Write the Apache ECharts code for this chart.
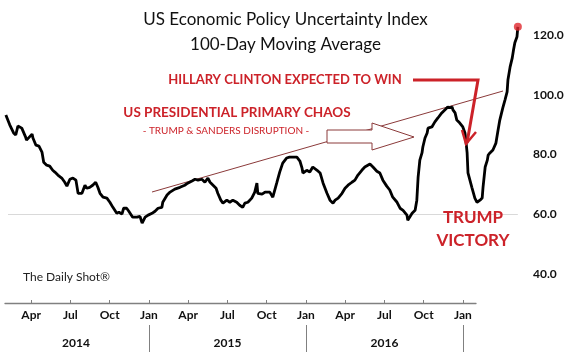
<!DOCTYPE html>
<html><head><meta charset="utf-8">
<script src="https://cdn.jsdelivr.net/npm/echarts@6/dist/echarts.min.js"></script>
<style>html,body{margin:0;padding:0;background:#fff}#c{width:571px;height:357px}</style>
</head><body><div id="c"></div>
<script>
// Series: US Economic Policy Uncertainty Index, 100-day moving average
const dates = [
'2014-02-03','2014-02-12','2014-02-21','2014-02-26','2014-03-03','2014-03-12','2014-03-21','2014-03-23',
'2014-04-05','2014-04-07','2014-04-14','2014-04-21','2014-04-28','2014-05-02','2014-05-09','2014-05-16',
'2014-05-23','2014-05-28','2014-06-04','2014-06-13','2014-06-20','2014-06-25','2014-07-02','2014-07-09',
'2014-07-16','2014-07-21','2014-07-30','2014-08-06','2014-08-10','2014-08-17','2014-08-24','2014-08-31',
'2014-09-05','2014-09-10','2014-09-17','2014-09-26','2014-10-03','2014-10-10','2014-10-19','2014-10-24',
'2014-10-31','2014-11-04','2014-11-11','2014-11-16','2014-11-25','2014-12-05','2014-12-12','2014-12-17',
'2014-12-24','2014-12-31','2015-01-09','2015-01-16','2015-01-23','2015-02-01','2015-02-03','2015-02-13',
'2015-02-20','2015-03-03','2015-03-15','2015-03-26','2015-04-02','2015-04-12','2015-04-19','2015-04-26',
'2015-05-05','2015-05-12','2015-05-19','2015-05-24','2015-05-31','2015-06-07','2015-06-11','2015-06-18',
'2015-06-23','2015-07-02','2015-07-09','2015-07-16','2015-07-25','2015-08-01','2015-08-08','2015-08-13',
'2015-08-20','2015-08-29','2015-09-05','2015-09-10','2015-09-12','2015-09-22','2015-09-29','2015-10-03',
'2015-10-10','2015-10-17','2015-10-26','2015-11-02','2015-11-09','2015-11-18','2015-11-25','2015-12-03',
'2015-12-12','2015-12-19','2015-12-24','2015-12-26','2016-01-04','2016-01-11','2016-01-18','2016-01-28',
'2016-02-04','2016-02-11','2016-02-20','2016-02-27','2016-03-05','2016-03-10','2016-03-17','2016-03-26',
'2016-04-02','2016-04-09','2016-04-18','2016-04-25','2016-05-02','2016-05-11','2016-05-18','2016-05-30',
'2016-06-06','2016-06-15','2016-06-22','2016-06-29','2016-07-08','2016-07-15','2016-07-22','2016-08-01',
'2016-08-08','2016-08-15','2016-08-24','2016-08-26','2016-09-05','2016-09-12','2016-09-16','2016-09-19',
'2016-09-23','2016-09-28','2016-09-30','2016-10-05','2016-10-10','2016-10-12','2016-10-21','2016-10-28',
'2016-11-04','2016-11-13','2016-11-20','2016-11-27','2016-12-02','2016-12-07','2016-12-09','2016-12-14',
'2016-12-18','2016-12-25','2017-01-01','2017-01-06','2017-01-08','2017-01-11','2017-01-13','2017-01-22',
'2017-01-29','2017-02-03','2017-02-10','2017-02-15','2017-02-17','2017-02-22','2017-02-27','2017-03-01',
'2017-03-05','2017-03-12','2017-03-19','2017-03-24','2017-03-28','2017-04-04','2017-04-09','2017-04-14',
'2017-04-16','2017-04-21','2017-04-26','2017-04-29','2017-05-02','2017-05-07','2017-05-09'
];
const values = [
93.2,89.9,87.2,86.5,89.5,88.8,85.8,84.8,
86.8,85.5,83.1,82.8,80.8,77.4,76.4,76.1,
74.7,74.1,73.1,72.1,70.7,69.4,71.7,72.1,
71.4,67.0,67.0,69.7,68.7,69.0,69.7,70.7,
69.0,67.0,65.7,65.4,64.0,62.3,60.3,60.7,
60.0,62.0,62.0,61.0,59.0,59.0,59.3,57.0,
59.0,59.7,60.3,61.0,62.0,62.3,64.0,66.4,
67.4,68.4,69.0,69.7,70.4,71.1,71.7,71.4,
71.7,70.7,72.1,70.7,69.7,68.7,67.0,64.7,
63.7,64.7,64.0,64.7,64.0,63.0,62.3,63.7,
64.0,65.4,67.4,70.4,67.0,66.7,67.4,67.0,
67.4,65.7,70.4,74.1,77.1,78.8,79.1,79.1,
79.1,77.8,75.4,73.8,74.7,74.1,75.8,74.7,
73.8,70.4,67.0,64.7,63.7,64.7,65.4,67.0,
68.7,69.7,70.7,71.4,73.1,74.7,75.8,76.8,
75.8,74.4,73.8,71.4,69.4,68.1,65.7,64.0,
62.0,61.3,59.7,58.0,60.3,61.3,64.7,72.4,
78.1,80.5,82.5,85.5,87.2,88.8,89.2,90.9,
92.2,93.9,94.9,95.9,95.6,95.9,94.9,93.9,
91.5,90.5,89.2,87.2,84.8,80.5,73.8,69.0,
65.4,64.0,64.7,65.4,69.0,75.8,78.1,79.8,
80.5,81.5,83.8,88.2,91.5,95.6,98.2,100.9,
105.0,109.3,112.3,115.0,117.4,119.4,122.7
];
// Bottom axis: month categories (Feb 2014 .. Feb 2017)
const monthCats = [];
for (let y = 2014; y <= 2017; y++) for (let m = 1; m <= 12; m++) {
  const k = y * 100 + m;
  if (k >= 201402 && k <= 201702) monthCats.push(y + '-' + String(m).padStart(2, '0'));
}
const monthNames = {'01':'Jan','04':'Apr','07':'Jul','10':'Oct'};
const yearLabelCats = {'2014-07':'2014','2015-07':'2015','2016-07':'2016'};
const yTickMin = 40, yTickMax = 130, yTickStep = 20;
const baseline = 60;

const RED = '#cc2229', DARK = '#8b3a3a';
const FONT = 'Lato';

const chart = echarts.init(document.getElementById('c'));
chart.setOption({
  animation: false,
  backgroundColor: '#fff',
  textStyle: { fontFamily: FONT },
  title: {
    text: 'US Economic Policy Uncertainty Index\n100-Day Moving Average',
    left: 'center', top: 2,
    textStyle: { fontFamily: FONT, fontSize: 17, fontWeight: 'normal', color: '#111', lineHeight: 25 }
  },
  grid: [
    { left: 5, right: 51, top: 5, bottom: 83 },
    { left: 5, width: 471, top: 250, bottom: 54 }
  ],
  xAxis: [
    { type: 'time', gridIndex: 0, min: '2014-02-01', max: '2017-05-14', show: false },
    { type: 'category', gridIndex: 1, data: monthCats, boundaryGap: false, position: 'bottom',
      axisLine: { lineStyle: { color: '#808080', width: 1.3 } },
      axisTick: { inside: true, length: 3, lineStyle: { color: '#808080' },
        interval: (i, v) => !!monthNames[v.slice(5)] },
      axisLabel: { margin: 6, color: '#111', fontWeight: 'bold', fontSize: 12, fontFamily: FONT,
        interval: (i, v) => !!monthNames[v.slice(5)], formatter: v => monthNames[v.slice(5)] || '' }
    },
    { type: 'category', gridIndex: 1, data: monthCats, boundaryGap: false, position: 'bottom', offset: 22,
      axisLine: { show: false },
      axisTick: { show: true, length: 27, lineStyle: { color: '#808080' },
        interval: (i, v) => v.slice(5) === '01' },
      axisLabel: { margin: 12, color: '#111', fontWeight: 'bold', fontSize: 12, fontFamily: FONT,
        interval: (i, v) => !!yearLabelCats[v],
        formatter: v => v === '2014-07' ? '{s|' + yearLabelCats[v] + '}' : (yearLabelCats[v] || ''),
        rich: { s: { padding: [0, 0, 0, 11], fontWeight: 'bold', fontSize: 12, fontFamily: FONT, color: '#111' } }
      }
    }
  ],
  yAxis: [
    { type: 'value', gridIndex: 0, position: 'right', min: yTickMin, max: yTickMax, interval: yTickStep,
      axisLine: { show: false }, axisTick: { show: false }, splitLine: { show: false },
      axisLabel: { margin: 13, color: '#111', fontWeight: 'bold', fontSize: 12, fontFamily: FONT,
        showMaxLabel: false, formatter: v => v.toFixed(1) } },
    { type: 'value', gridIndex: 1, show: false }
  ],
  graphic: [
    { type: 'line', z: -1, shape: { x1: 152, y1: 192, x2: 503, y2: 91 }, style: { stroke: DARK, lineWidth: 1 } },
    { type: 'polygon', z: 0, shape: { points: [[327,130],[372,130],[372,123],[414,137],[372,150],[372,143],[327,143]] },
      style: { fill: '#fff', stroke: DARK, lineWidth: 1 } },
    { type: 'text', z: 100, x: 23, y: 277, style: { text: 'The Daily Shot®', font: '12px ' + FONT, fill: '#222', verticalAlign: 'middle' } },
    { type: 'text', z: 100, x: 285, y: 80, style: { text: 'HILLARY CLINTON EXPECTED TO WIN', font: 'bold 13px ' + FONT, fill: RED, align: 'center', verticalAlign: 'middle' } },
    { type: 'polyline', z: 100, shape: { points: [[413,80],[478,80],[467,143]] }, style: { stroke: RED, lineWidth: 3, fill: null } },
    { type: 'polyline', z: 100, shape: { points: [[462,130],[466,144],[476,132]] }, style: { stroke: RED, lineWidth: 2.5, fill: null } },
    { type: 'text', z: 100, x: 237, y: 113, style: { text: 'US PRESIDENTIAL PRIMARY CHAOS', font: 'bold 13.5px ' + FONT, fill: RED, align: 'center', verticalAlign: 'middle' } },
    { type: 'text', z: 100, x: 226, y: 131, style: { text: '- TRUMP & SANDERS DISRUPTION -', font: '10px ' + FONT, fill: RED, align: 'center', verticalAlign: 'middle' } },
    { type: 'text', z: 100, x: 473, y: 218, style: { text: 'TRUMP', font: 'bold 17px ' + FONT, fill: RED, align: 'center', verticalAlign: 'middle' } },
    { type: 'text', z: 100, x: 473, y: 241, style: { text: 'VICTORY', font: 'bold 17px ' + FONT, fill: RED, align: 'center', verticalAlign: 'middle' } }
  ],
  series: [
    { type: 'line', xAxisIndex: 0, yAxisIndex: 0, z: 3,
      data: dates.map((d, i) => [d, values[i]]),
      symbol: 'none', clip: false,
      lineStyle: { color: '#000', width: 2.8 },
      markLine: { silent: true, symbol: 'none', label: { show: false }, z: 1,
        lineStyle: { color: '#d9d9d9', width: 1, type: 'solid' },
        data: [[{ coord: ['2014-02-08', baseline] }, { coord: ['2017-05-09', baseline] }]] }
    },
    { type: 'scatter', xAxisIndex: 0, yAxisIndex: 0, z: 4,
      data: [[dates[dates.length - 1], values[values.length - 1]]],
      symbolSize: 8, itemStyle: { color: '#e0282e' } },
    { type: 'line', xAxisIndex: 1, yAxisIndex: 1, data: [] }
  ]
});
</script></body></html>
